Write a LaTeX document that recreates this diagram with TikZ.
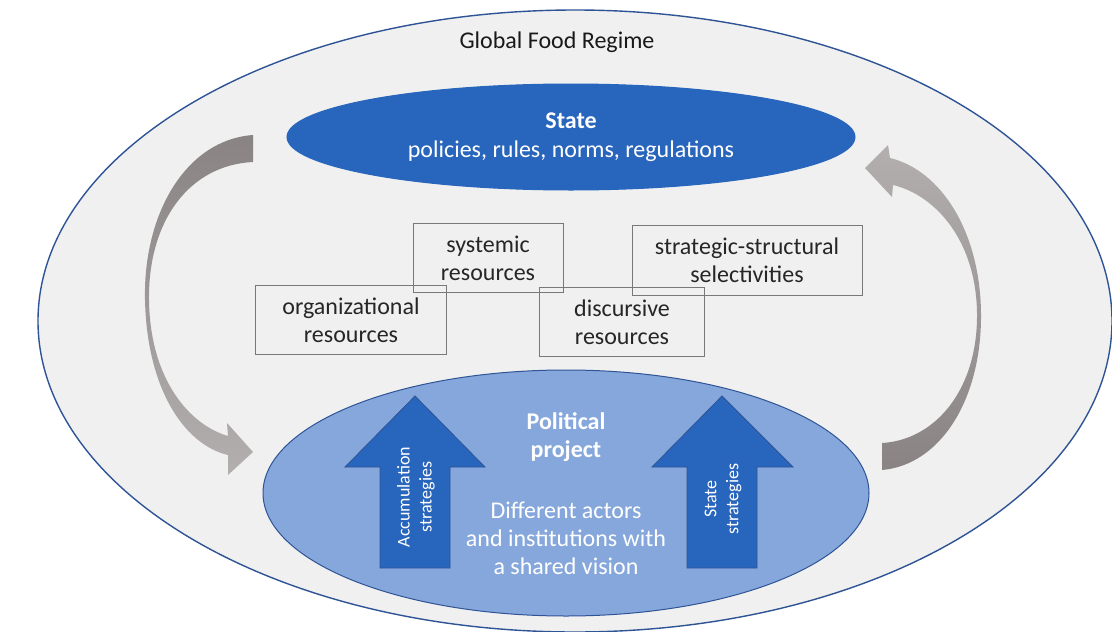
\documentclass[tikz,border=0pt]{standalone}
\usepackage{fontspec}
\setmainfont{Carlito}
\usetikzlibrary{shapes.geometric, positioning}
\definecolor{stateblue}{RGB}{40,101,188}
\definecolor{projectblue}{RGB}{134,167,219}
\definecolor{regimegray}{RGB}{240,240,240}
\definecolor{rimblue}{RGB}{47,84,150}
\definecolor{cycledark}{RGB}{137,131,131}
\definecolor{cyclelight}{RGB}{180,175,175}
\definecolor{boxgray}{RGB}{120,120,120}
\tikzset{
  regime/.style={ellipse, draw=rimblue, fill=regimegray, line width=1.4pt, inner sep=0pt},
  statezone/.style={ellipse, draw=stateblue, fill=stateblue, line width=1pt, inner sep=0pt,
    text=white, align=center, font=\fontsize{24}{29}\selectfont},
  projectzone/.style={ellipse, draw=rimblue, fill=projectblue, line width=1pt, inner sep=0pt},
  resource/.style={rectangle, draw=boxgray, line width=0.9pt, inner sep=0pt, align=center,
    minimum height=69pt, text=black!85, font=\fontsize{24}{28}\selectfont},
  whitetext/.style={text=white, align=center, font=\fontsize{24}{28}\selectfont},
  strategy/.style={fill=stateblue, draw=rimblue, line width=0.8pt},
  strategytext/.style={text=white, align=center, rotate=90, font=\fontsize{18}{22}\selectfont}
}
\begin{document}
\begin{tikzpicture}[x=1pt, y=-1pt]
  \useasboundingbox (0,0) rectangle (1112,632);
  \fill[white] (0,0) rectangle (1112,632);

  % outer regime and the two zones
  \node[regime, minimum width=1074pt, minimum height=622pt] (regime) at (575,321) {};
  \node[font=\fontsize{24}{28}\selectfont, text=black!90] (regimelabel) at (557,42) {Global Food Regime};
  \node[statezone, minimum width=568pt, minimum height=106pt] (state) at (571,137)
    {\textbf{State}\\policies, rules, norms, regulations};
  \node[projectzone, minimum width=606pt, minimum height=246pt] (project) at (566,493) {};

  % feedback cycle between project and state
  \shade[top color=cycledark, bottom color=cyclelight]
    (253,135) .. controls (185,140) and (143,215) .. (145,300)
    .. controls (147,390) and (185,445) .. (228,455)
    -- (228,475) -- (253,452) -- (227,423) -- (228,436)
    .. controls (190,425) and (150,380) .. (149,300)
    .. controls (148,220) and (190,165) .. (253,162) -- cycle;
  \shade[top color=cyclelight, bottom color=cycledark]
    (882,470) .. controls (940,465) and (982,400) .. (981,313)
    .. controls (980,230) and (940,170) .. (890,158)
    -- (888,145) -- (865,168) -- (892,197) -- (893,185)
    .. controls (935,195) and (976,240) .. (977,313)
    .. controls (978,390) and (935,440) .. (882,443) -- cycle;

  % resources
  \node[resource, minimum width=150pt] (systemic) at (488,258) {systemic\\resources};
  \node[resource, minimum width=191pt] (organizational) at (351,320) {organizational\\resources};
  \node[resource, minimum width=165pt] (discursive) at (622,322) {discursive\\resources};
  \node[resource, minimum width=230pt, minimum height=70pt] (selectivities) at (747,260)
    {strategic-structural\\selectivities};

  % strategies pushing up into the project
  \draw[strategy] (380,568) -- (380,467) -- (345,467) -- (415,396) -- (485,467)
    -- (450,467) -- (450,568) -- cycle;
  \node[strategytext] (accumulation) at (416,497) {Accumulation\\strategies};
  \draw[strategy] (687,568) -- (687,467) -- (652,467) -- (722,396) -- (793,467)
    -- (757,467) -- (757,568) -- cycle;
  \node[strategytext] (statestrat) at (723,499) {State\\strategies};

  \node[whitetext] (projecttitle) at (566,437) {\textbf{Political}\\\textbf{project}};
  \node[whitetext] (actors) at (566,538)
    {Different actors\\and institutions with\\a shared vision};
\end{tikzpicture}
\end{document}
